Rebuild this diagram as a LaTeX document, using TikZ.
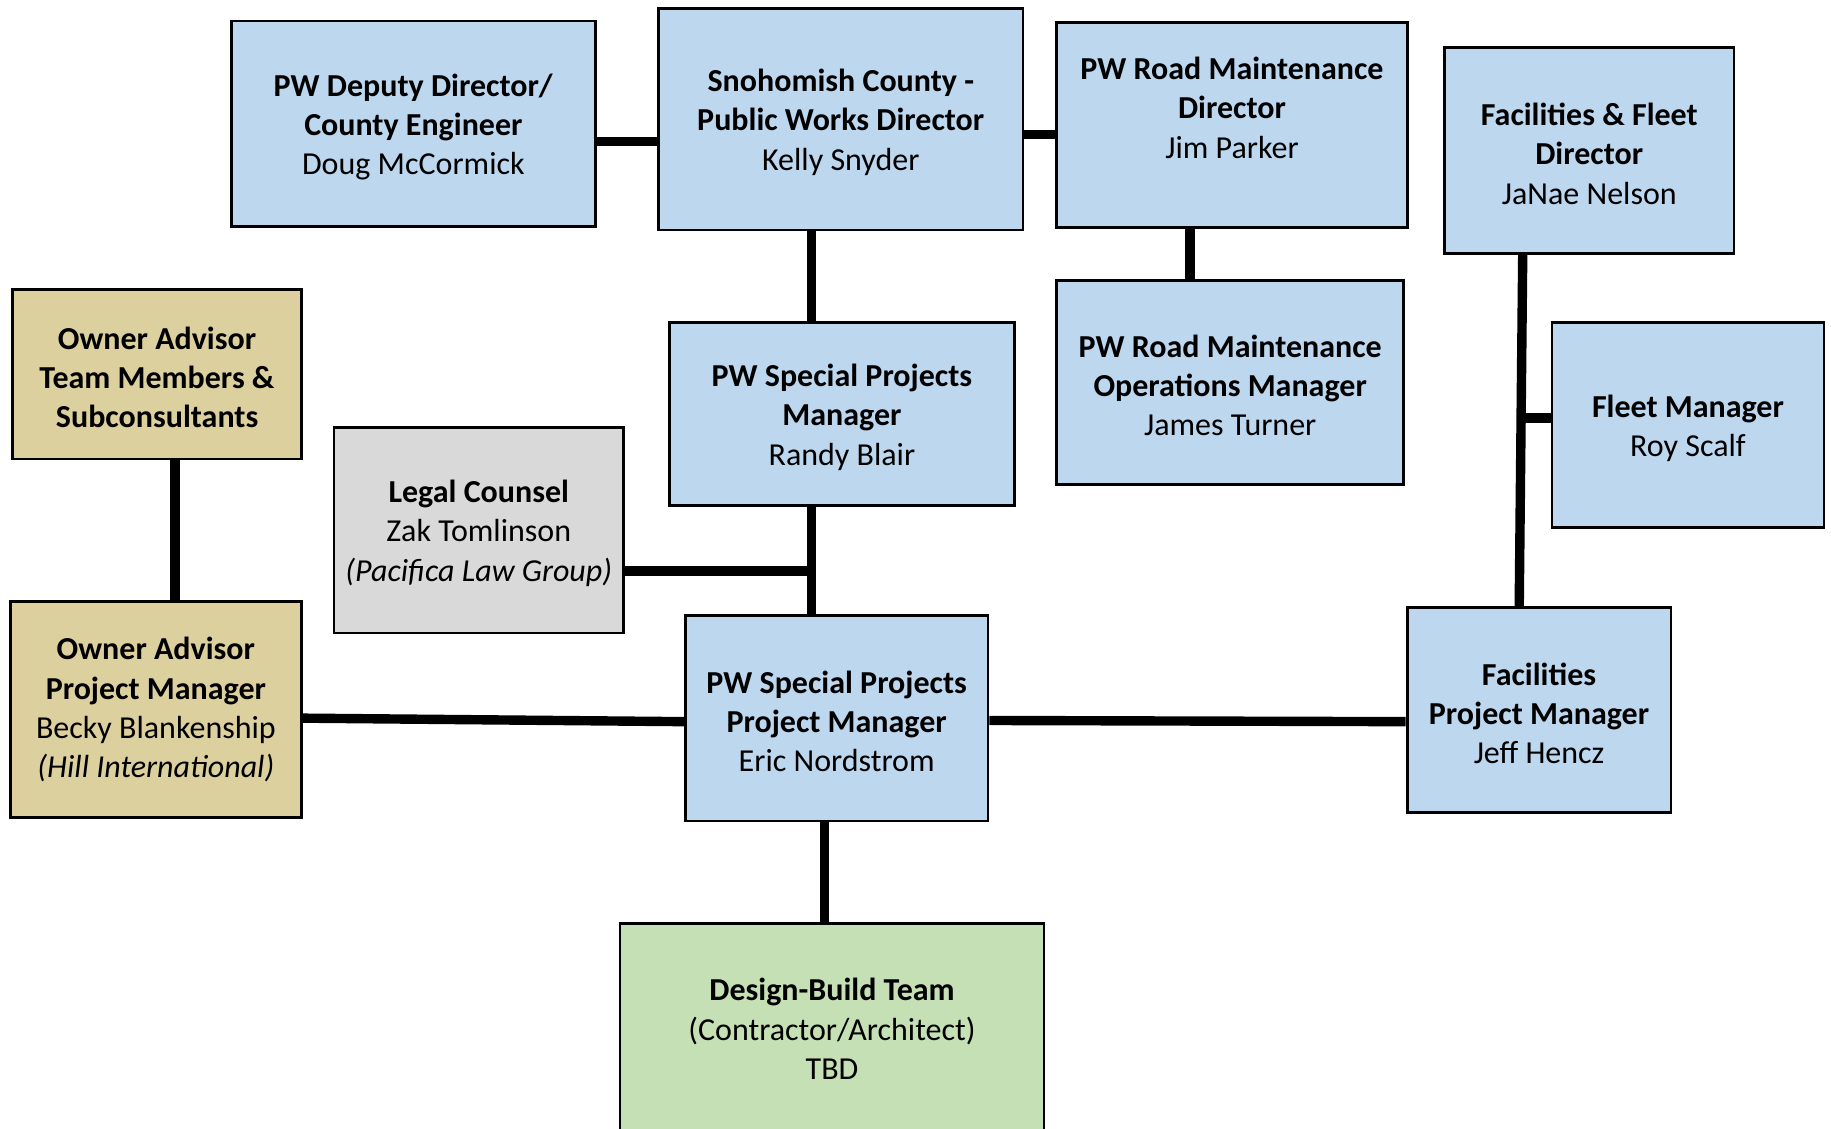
\documentclass[tikz,border=0pt]{standalone}
\usepackage{fontspec}
\setmainfont{Carlito}
\usetikzlibrary{fit,calc}
\definecolor{bluefill}{HTML}{BDD7EE}
\definecolor{tanfill}{HTML}{DDD09F}
\definecolor{greyfill}{HTML}{D9D9D9}
\definecolor{greenfill}{HTML}{C5E0B4}
\tikzset{
  orgbox/.style={draw=black, line width=1.4pt, inner sep=0pt},
  lbl/.style={align=center, inner sep=0pt, yshift=-1.6pt,
    font=\fontsize{16}{19.6}\selectfont},
  bluebox/.style={orgbox, fill=bluefill},
  tanbox/.style={orgbox, fill=tanfill},
  greybox/.style={orgbox, fill=greyfill},
  greenbox/.style={orgbox, fill=greenfill},
  conn/.style={draw=black, line width=4.7pt}
}
\begin{document}
\begin{tikzpicture}[x=0.58386pt, y=-0.58386pt]
\useasboundingbox (0,0) rectangle (1568,966);
\fill[white] (0,0) rectangle (1568,966);

% nodes
\node[bluebox, fit={(198,18) (510,194)}, label={[lbl, name=dep-t]center:{\textbf{PW Deputy Director/}\\\textbf{County Engineer}\\Doug McCormick}}] (dep) {};
\node[bluebox, fit={(564,7) (876,197)}, label={[lbl, name=sno-t]center:{\textbf{Snohomish County -}\\\textbf{Public Works Director}\\Kelly Snyder}}] (sno) {};
\node[bluebox, fit={(905,19) (1205,195)}, label={[lbl, yshift=10.2pt, name=rmd-t]center:{\textbf{PW Road Maintenance}\\\textbf{Director}\\Jim Parker}}] (rmd) {};
\node[bluebox, fit={(1237,41) (1485,217)}, label={[lbl, name=fdir-t]center:{\textbf{Facilities \& Fleet}\\\textbf{Director}\\JaNae Nelson}}] (fdir) {};
\node[tanbox, fit={(11,248) (258,393)}, label={[lbl, name=oat-t]center:{\textbf{Owner Advisor}\\\textbf{Team Members \&}\\\textbf{Subconsultants}}}] (oat) {};
\node[bluebox, fit={(573,276) (869,433)}, label={[lbl, name=spm-t]center:{\textbf{PW Special Projects}\\\textbf{Manager}\\Randy Blair}}] (spm) {};
\node[greybox, fit={(286,366) (534,542)}, label={[lbl, name=legal-t]center:{\textbf{Legal Counsel}\\Zak Tomlinson\\\textit{(Pacifica Law Group)}}}] (legal) {};
\node[bluebox, fit={(905,240) (1202,415)}, label={[lbl, name=ops-t]center:{\textbf{PW Road Maintenance}\\\textbf{Operations Manager}\\James Turner}}] (ops) {};
\node[bluebox, fit={(1329,276) (1562,452)}, label={[lbl, name=fleet-t]center:{\textbf{Fleet Manager}\\Roy Scalf}}] (fleet) {};
\node[tanbox, fit={(9,515) (258,700)}, label={[lbl, yshift=1.5pt, name=oapm-t]center:{\textbf{Owner Advisor}\\\textbf{Project Manager}\\Becky Blankenship\\\textit{(Hill International)}}}] (oapm) {};
\node[bluebox, fit={(587,527) (846,703)}, label={[lbl, name=sppm-t]center:{\textbf{PW Special Projects}\\\textbf{Project Manager}\\Eric Nordstrom}}] (sppm) {};
\node[bluebox, fit={(1205,520) (1431,696)}, label={[lbl, name=fpm-t]center:{\textbf{Facilities}\\\textbf{Project Manager}\\Jeff Hencz}}] (fpm) {};
\node[greenbox, fit={(531,791) (894,969)}, label={[lbl, yshift=1pt, name=db-t]center:{\textbf{Design-Build Team}\\(Contractor/Architect)\\TBD}}] (db) {};

% junction coordinates
\coordinate (fleetj) at (1303,358);
\coordinate (legalj) at (695,489);

% connectors
\draw[conn] (dep.east |- 0,121) -- (sno.west |- 0,121);
\draw[conn] (sno.east |- 0,115) -- (rmd.west |- 0,115);
\draw[conn] (sno.south -| 695,0) -- (spm.north -| 695,0);
\draw[conn] (rmd.south -| 1019,0) -- (ops.north -| 1019,0);
\draw[conn] (fdir.south -| 1304,0) -- (fpm.north -| 1301,0);
\draw[conn] (fleetj) -- (fleet.west |- fleetj);
\draw[conn] (oat.south -| 150,0) -- (oapm.north -| 150,0);
\draw[conn] (spm.south -| 695,0) -- (sppm.north -| 695,0);
\draw[conn] (legal.east |- legalj) -- (legalj);
\draw[conn] (oapm.east |- 0,615) -- (sppm.west |- 0,618);
\draw[conn] (sppm.east |- 0,617) -- (fpm.west |- 0,618);
\draw[conn] (sppm.south -| 706,0) -- (db.north -| 706,0);
\end{tikzpicture}
\end{document}
